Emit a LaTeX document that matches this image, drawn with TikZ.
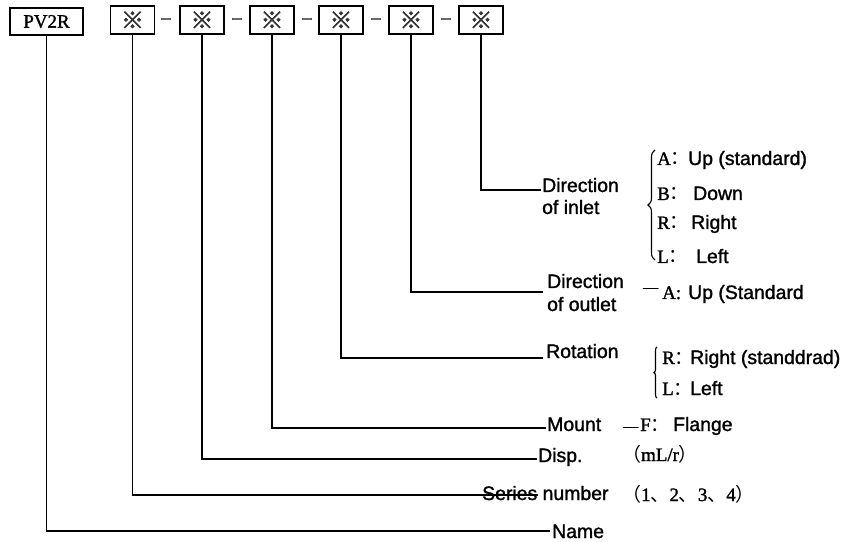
\documentclass[tikz,border=0pt]{standalone}
\usepackage{fontspec}
\setmainfont{Liberation Sans}
\newfontfamily\sansb{Liberation Sans}[FakeBold=1.4]
\newfontfamily\serf{Liberation Serif}[FakeBold=1.4]
\newfontfamily\cjk{Noto Sans CJK SC}
\newfontfamily\cjkb{Noto Sans CJK SC}[FakeBold=2.5]
\usetikzlibrary{decorations.pathreplacing}
\begin{document}
\begin{tikzpicture}[x=1bp,y=-1bp,
  codebox/.style={draw,line width=1.5bp,minimum width=44bp,minimum height=28bp,inner sep=0,
    font=\cjkb\fontsize{23}{23}\selectfont,text=black!80},
  namebox/.style={draw,line width=1.5bp,minimum width=73bp,minimum height=27bp,inner sep=0,
    font=\serf\fontsize{19}{19}\selectfont},
  dashlbl/.style={inner sep=0,font=\serf\fontsize{19}{19}\selectfont},
  lbl/.style={anchor=base west,inner sep=0,font=\sansb\fontsize{19.5}{22}\selectfont},
  code/.style={anchor=base west,inner sep=0,font=\serf\fontsize{19}{22}\selectfont},
  emdash/.style={anchor=base west,inner sep=0,font=\serf\fontsize{15}{15}\selectfont},
  conn/.style={line width=1.4bp},
  bracestyle/.style={line width=1.1bp,decorate},
]
\useasboundingbox (0,0) rectangle (847,542);
% top boxes
\node[namebox] (pv) at (46.5,21.5) {PV2R};
\node[codebox] (b1) at (132.5,20) {※};
\node[codebox] (b2) at (202,20) {※};
\node[codebox] (b3) at (272,20) {※};
\node[codebox] (b4) at (341,20) {※};
\node[codebox] (b5) at (411,20) {※};
\node[codebox] (b6) at (481,20) {※};
\node[dashlbl] (d1) at (166,21) {–};
\node[dashlbl] (d2) at (237,21) {–};
\node[dashlbl] (d3) at (307,21) {–};
\node[dashlbl] (d4) at (376,21) {–};
\node[dashlbl] (d5) at (446,21) {–};
% connector ends
\coordinate (e6) at (541,190);
\coordinate (e5) at (543,292);
\coordinate (e4) at (543,358);
\coordinate (e3) at (546,428);
\coordinate (e2) at (537,459);
\coordinate (e1) at (538,495);
\coordinate (e0) at (550,531);
\draw[conn] (b6.south) |- (e6);
\draw[conn] (b5.south) |- (e5);
\draw[conn] (b4.south) |- (e4);
\draw[conn] (b3.south) |- (e3);
\draw[conn] (b2.south) |- (e2);
\draw[conn] (b1.south) |- (e1);
\draw[conn] (pv.south) |- (e0);
% labels
\node[lbl] (inl1) at (542,192) {Direction};
\node[lbl] (inl2) at (542,214) {of inlet};
\node[lbl] (out1) at (547,288) {Direction};
\node[lbl] (out2) at (547,311) {of outlet};
\node[lbl] (rot) at (546,358) {Rotation};
\node[lbl] (mnt) at (547,431) {Mount};
\node[lbl] (dsp) at (538,462) {Disp.};
\node[lbl] (ser) at (482,500) {Series number};
\node[lbl] (nam) at (552,538) {Name};
% inlet options
\draw[bracestyle,decoration={brace,amplitude=7bp,aspect=0.5}] (655,260) -- (655,150);
\node[code] (ia) at (657,165) {A{\cjk ：}};
\node[lbl] (iaw) at (688,165) {Up (standard)};
\node[code] (ib) at (657,200) {B{\cjk ：}};
\node[lbl] (ibw) at (693,200) {Down};
\node[code] (ir) at (657,229) {R{\cjk ：}};
\node[lbl] (irw) at (691,229) {Right};
\node[code] (il) at (657,263) {L{\cjk ：}};
\node[lbl] (ilw) at (696,263) {Left};
% outlet option
\node[emdash] (od) at (643,292) {—};
\node[code] (oa) at (662,299) {A:};
\node[lbl] (oaw) at (688,299) {Up (Standard};
% rotation options
\draw[bracestyle,decoration={brace,amplitude=3bp,aspect=0.5}] (657,398) -- (657,347);
\node[code] (rr) at (662,364) {R{\cjk ：}};
\node[lbl] (rrw) at (690,364) {Right (standdrad)};
\node[code] (rl) at (662,395) {L{\cjk ：}};
\node[lbl] (rlw) at (690,395) {Left};
% mount option
\node[emdash] (md) at (623,431) {—};
\node[code] (mf) at (640,431) {F{\cjk ：}};
\node[lbl] (mfw) at (673,431) {Flange};
% disp and series
\node[code] (du) at (622,461) {{\cjk （}mL/r{\cjk ）}};
\node[code] (sn) at (622,501) {{\cjk （}1{\cjk 、}2{\cjk 、}3{\cjk 、}4{\cjk ）}};
\end{tikzpicture}
\end{document}
